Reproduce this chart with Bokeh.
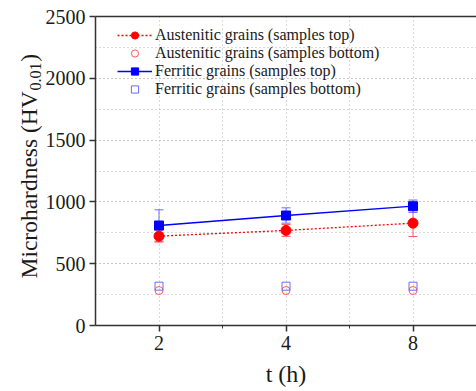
import math

from bokeh.embed import file_html
from bokeh.models import (ColumnDataSource, FixedTicker, Label, Legend, LegendItem,
                          LinearAxis, Range1d, SingleIntervalTicker, TeeHead, Whisker)
from bokeh.plotting import figure
from bokeh.resources import INLINE

# Annealing time categories (h) and their positions on the x axis
time_labels = ["2", "4", "8"]
positions = [1, 2, 3]

# Microhardness HV0.01 values
aus_top = [723, 769, 828]
aus_top_err = [48, 48, 108]
aus_bottom = [283, 283, 283]
fer_top = [809, 890, 965]
fer_top_err = [127, 62, 50]
fer_bottom = [318, 318, 318]

SERIF = "Liberation Serif"
RED = "#ff0000"
RED_LIGHT = "#ff5a5a"
BLUE = "#0000ff"
BLUE_LIGHT = "#6a6aff"
GRID = "#b4b4b4"

Y_MAX = 2500
LEFT, TOP, BOTTOM = 95, 16, 325  # frame edges in pixels

p = figure(width=476, height=391, output_backend="svg", toolbar_location=None,
           x_range=Range1d(0.5, 3.5), y_range=Range1d(0, Y_MAX),
           min_border_left=LEFT, min_border_right=0, min_border_top=TOP,
           min_border_bottom=391 - BOTTOM)
p.outline_line_color = None
p.background_fill_color = "white"
p.border_fill_color = "white"

x_ticker = FixedTicker(ticks=positions, minor_ticks=[1.5, 2.5])
y_ticker = SingleIntervalTicker(interval=500, num_minor_ticks=2)

xa = p.xaxis[0]
xa.ticker = x_ticker
xa.major_label_overrides = {pos: lab for pos, lab in zip(positions, time_labels)}
ya = p.yaxis[0]
ya.ticker = y_ticker

for ax in (xa, ya):
    ax.axis_line_color = "#333333"
    ax.axis_line_width = 1.5
    ax.major_tick_line_color = "#333333"
    ax.major_tick_line_width = 1.5
    ax.major_tick_in = 0
    ax.major_tick_out = 6
    ax.major_label_text_font = SERIF
    ax.major_label_text_font_size = "20px"
    ax.major_label_text_color = "#1a1a1a"
    ax.major_label_standoff = 4

xa.minor_tick_line_color = "#333333"
xa.minor_tick_in = 0
xa.minor_tick_out = 3
ya.minor_tick_line_color = None

xa.axis_label = "t (h)"
xa.axis_label_text_font = SERIF
xa.axis_label_text_font_size = "24px"
xa.axis_label_text_font_style = "normal"
xa.axis_label_text_color = "#1a1a1a"
xa.axis_label_standoff = 8

# plain top border
top_axis = LinearAxis(ticker=FixedTicker(ticks=[]), axis_line_color="#333333",
                      axis_line_width=1.5, major_tick_line_color=None,
                      minor_tick_line_color=None)
p.add_layout(top_axis, "above")

for g, tk in ((p.xgrid[0], x_ticker), (p.ygrid[0], y_ticker)):
    g.ticker = tk
    g.grid_line_color = GRID
    g.grid_line_dash = "1 3"
    g.minor_grid_line_color = GRID
    g.minor_grid_line_dash = "1 3"

src = ColumnDataSource(dict(
    x=positions,
    aus_top=aus_top,
    aus_lo=[v - e for v, e in zip(aus_top, aus_top_err)],
    aus_hi=[v + e for v, e in zip(aus_top, aus_top_err)],
    aus_bottom=aus_bottom,
    fer_top=fer_top,
    fer_lo=[v - e for v, e in zip(fer_top, fer_top_err)],
    fer_hi=[v + e for v, e in zip(fer_top, fer_top_err)],
    fer_bottom=fer_bottom,
))

# open markers for the bottom samples
aus_bot_r = p.scatter("x", "aus_bottom", source=src, marker="circle", size=8,
                      fill_color=None, line_color=RED_LIGHT, line_width=1)
fer_bot_r = p.scatter("x", "fer_bottom", source=src, marker="square", size=8,
                      fill_color=None, line_color=BLUE_LIGHT, line_width=1)

# austenitic grains, top samples
p.add_layout(Whisker(source=src, base="x", lower="aus_lo", upper="aus_hi",
                     line_color=RED_LIGHT, line_width=1,
                     upper_head=TeeHead(size=9, line_color=RED_LIGHT),
                     lower_head=TeeHead(size=9, line_color=RED_LIGHT)))
aus_line = p.line("x", "aus_top", source=src, line_color=RED, line_width=1.3,
                  line_dash="2 2")
aus_pts = p.scatter("x", "aus_top", source=src, marker="circle", size=10,
                    fill_color=RED, line_color=RED)

# ferritic grains, top samples
p.add_layout(Whisker(source=src, base="x", lower="fer_lo", upper="fer_hi",
                     line_color=BLUE_LIGHT, line_width=1,
                     upper_head=TeeHead(size=9, line_color=BLUE_LIGHT),
                     lower_head=TeeHead(size=9, line_color=BLUE_LIGHT)))
fer_line = p.line("x", "fer_top", source=src, line_color=BLUE, line_width=1.3)
fer_pts = p.scatter("x", "fer_top", source=src, marker="square", size=9,
                    fill_color=BLUE, line_color=BLUE)

legend = Legend(items=[
    LegendItem(label="Austenitic grains (samples top)", renderers=[aus_line, aus_pts]),
    LegendItem(label="Austenitic grains (samples bottom)", renderers=[aus_bot_r]),
    LegendItem(label="Ferritic grains (samples top)", renderers=[fer_line, fer_pts]),
    LegendItem(label="Ferritic grains (samples bottom)", renderers=[fer_bot_r]),
], location=(22, 299 - 72), orientation="vertical", padding=0, margin=0, spacing=0,
    glyph_width=35, glyph_height=18, label_height=18, label_standoff=3,
    label_text_font=SERIF, label_text_font_size="16px", label_text_color="#1a1a1a",
    background_fill_alpha=0, border_line_color=None)
p.add_layout(legend, "center")


# y-axis title with a subscript: two rotated labels placed left of the axis
def y_at(py):
    return (BOTTOM - py) / (BOTTOM - TOP) * Y_MAX


def x_at(px):
    return 0.5 + (px - LEFT) / (476 - LEFT) * 3.0


NBSP = "\u00a0"
title_parts = [
    ("Microhardness (HV" + NBSP * 5 + ")", 278, 28, "23.5px"),
    ("0.01", 90, 35, "16px"),
]
for txt, py, px, fs in title_parts:
    p.add_layout(Label(x=x_at(px), y=y_at(py), text=txt, angle=math.pi / 2,
                       text_align="left", text_baseline="alphabetic",
                       text_font=SERIF, text_font_size=fs, text_color="#1a1a1a"),
                 "left")

open("out.html", "w").write(file_html(p, INLINE))
